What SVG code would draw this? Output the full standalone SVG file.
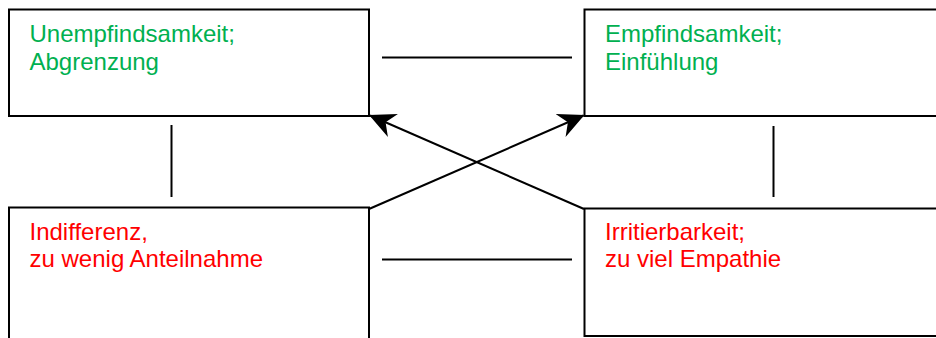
<svg xmlns="http://www.w3.org/2000/svg" width="936" height="338" viewBox="0 0 936 338">
  <defs>
    <style>
      .box { fill: #ffffff; stroke: #000000; stroke-width: 2; }
      .lbl { font-family: "Liberation Sans", Arial, sans-serif; font-size: 24px; }
      .good { fill: #00b050; }
      .bad { fill: #ff0000; }
      .link { stroke: #000000; stroke-width: 2; fill: none; }
    </style>
    <marker id="head" viewBox="0 0 26 25" refX="25" refY="12.5" markerWidth="26" markerHeight="25" markerUnits="userSpaceOnUse" orient="auto">
      <path d="M0,0 L26,12.5 L0,25 L8,12.5 Z" fill="#000000"/>
    </marker>
  </defs>

  <g id="unempfindsamkeit">
    <rect class="box" x="9" y="9.5" width="360" height="106.5"/>
    <text class="lbl good" x="29.5" y="42">Unempfindsamkeit;</text>
    <text class="lbl good" x="29.5" y="70">Abgrenzung</text>
  </g>

  <g id="empfindsamkeit">
    <rect class="box" x="584.5" y="9.5" width="360" height="106.5"/>
    <text class="lbl good" x="605" y="42">Empfindsamkeit;</text>
    <text class="lbl good" x="605" y="70">Einfühlung</text>
  </g>

  <g id="indifferenz">
    <rect class="box" x="9" y="207.5" width="360" height="140"/>
    <text class="lbl bad" x="29.5" y="240">Indifferenz,</text>
    <text class="lbl bad" x="29.5" y="267">zu wenig Anteilnahme</text>
  </g>

  <g id="irritierbarkeit">
    <rect class="box" x="584.5" y="208.5" width="360" height="127.5"/>
    <text class="lbl bad" x="605" y="240">Irritierbarkeit;</text>
    <text class="lbl bad" x="605" y="267">zu viel Empathie</text>
  </g>

  <g id="connectors">
    <line class="link" x1="382" y1="57.5" x2="572" y2="57.5"/>
    <line class="link" x1="382" y1="259.5" x2="572" y2="259.5"/>
    <line class="link" x1="171.5" y1="125" x2="171.5" y2="197"/>
    <line class="link" x1="773.5" y1="126" x2="773.5" y2="197"/>
    <line class="link" x1="584" y1="209" x2="370" y2="115.5" marker-end="url(#head)"/>
    <line class="link" x1="369" y1="209" x2="583.5" y2="115.5" marker-end="url(#head)"/>
  </g>
</svg>
